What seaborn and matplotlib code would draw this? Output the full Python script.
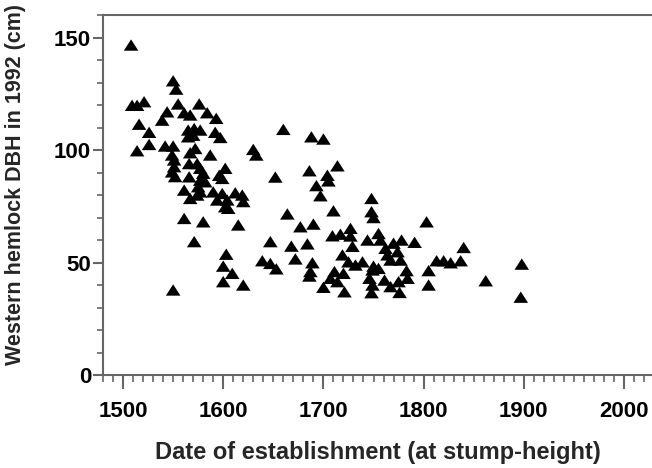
import matplotlib
matplotlib.use("Agg")
import matplotlib.pyplot as plt
import seaborn as sns
import pandas as pd
from matplotlib.path import Path
from matplotlib.ticker import MultipleLocator

# Date of establishment (year) and DBH in 1992 (cm)
year = [
    1508, 1550, 1553, 1509, 1514, 1521, 1555, 1576, 1544, 1539,
    1561, 1567, 1584, 1593, 1516, 1526, 1592, 1597, 1565, 1571,
    1577, 1565, 1570, 1526, 1514, 1542, 1550, 1572, 1567, 1587,
    1630, 1633, 1660,
    1549, 1551, 1551, 1566, 1574, 1577, 1549, 1552, 1580, 1602,
    1596, 1599, 1566, 1577, 1582, 1575, 1561, 1590, 1599, 1612,
    1619, 1574, 1577, 1567, 1594, 1604, 1620, 1605, 1602, 1561,
    1580, 1615, 1571, 1603, 1600, 1609, 1600, 1620, 1550,
    1652, 1664, 1677, 1647, 1668, 1672, 1639, 1647, 1653,
    1688, 1700, 1686, 1714, 1704, 1705, 1693, 1697, 1710, 1690,
    1684, 1709, 1717, 1727, 1727, 1729, 1719, 1725, 1732, 1720,
    1711, 1707, 1714, 1700, 1721, 1689, 1687, 1686,
    1748, 1748, 1750, 1803, 1755, 1744, 1757, 1770, 1778, 1791,
    1762, 1774, 1764, 1767, 1777, 1739, 1750, 1755, 1813, 1820,
    1827, 1837, 1840, 1805, 1783, 1749, 1746, 1761, 1775, 1784,
    1749, 1767, 1748, 1776, 1805,
    1898, 1862, 1897,
]
dbh = [
    146.7, 130.8, 127.1, 119.9, 119.9, 121.5, 120.5, 120.5, 117.0, 113.3,
    116.6, 115.6, 116.6, 114.1, 111.5, 107.9, 107.9, 105.6, 108.9, 109.6,
    108.9, 105.9, 106.6, 102.5, 99.7, 101.8, 101.8, 100.7, 98.8, 97.8,
    100.3, 97.8, 109.2,
    97.8, 95.6, 92.6, 94.0, 94.0, 91.9, 90.3, 88.2, 89.7, 91.9,
    88.8, 87.4, 88.1, 86.6, 85.9, 83.7, 82.2, 81.4, 80.7, 81.0,
    80.0, 80.0, 81.4, 78.5, 77.8, 77.8, 77.1, 74.1, 74.8, 69.6,
    68.1, 66.7, 59.3, 53.7, 48.4, 45.2, 41.5, 40.0, 37.8,
    88.0, 71.6, 65.9, 59.3, 57.3, 51.6, 50.8, 49.6, 47.2,
    105.9, 104.9, 90.8, 93.0, 88.8, 86.3, 84.2, 79.7, 73.0, 67.1,
    58.3, 61.9, 62.6, 65.2, 61.8, 57.2, 53.4, 50.3, 48.9, 45.2,
    46.0, 43.0, 41.5, 39.0, 37.0, 49.9, 46.0, 44.0,
    78.5, 72.6, 70.0, 68.1, 62.9, 60.0, 60.0, 58.6, 60.0, 59.0,
    56.3, 54.8, 53.4, 51.1, 51.1, 50.3, 48.4, 47.4, 50.8, 50.8,
    49.9, 50.8, 56.7, 46.4, 46.4, 46.7, 43.0, 42.2, 41.5, 43.0,
    40.0, 39.3, 36.6, 36.7, 40.0,
    49.3, 41.9, 34.6,
]

df = pd.DataFrame({"year": year, "dbh": dbh})

sns.set_style("ticks")
plt.rcParams["font.family"] = ["Liberation Sans", "DejaVu Sans"]

fig = plt.figure(figsize=(6.52, 4.68), dpi=100)
ax = fig.add_axes([0.158, 0.1987, 0.842, 0.769])

# flat triangle marker, a bit wider than tall
tri = Path([(-1, -0.78), (1, -0.78), (0, 0.78), (-1, -0.78)], closed=True)
sns.scatterplot(data=df, x="year", y="dbh", marker=tri, s=110,
                color="black", edgecolor="none", linewidth=0, ax=ax)

ax.set_xlim(1480, 2028)
ax.set_ylim(0, 160)
ax.xaxis.set_major_locator(MultipleLocator(100))
ax.xaxis.set_minor_locator(MultipleLocator(10))
ax.yaxis.set_major_locator(MultipleLocator(50))
ax.yaxis.set_minor_locator(MultipleLocator(10))

axis_col = "#666666"
for side in ["left", "bottom", "top"]:
    ax.spines[side].set_color(axis_col)
    ax.spines[side].set_linewidth(1.5)
ax.spines["right"].set_visible(False)

ax.tick_params(axis="x", which="major", length=10, width=1.5, pad=9)
ax.tick_params(axis="x", which="minor", length=5, width=1.2)
ax.tick_params(axis="y", which="major", length=7, width=1.5, pad=1.5)
ax.tick_params(axis="y", which="minor", length=4, width=1.2)
ax.tick_params(which="both", color=axis_col, labelsize=16, labelcolor="black")
for lab in ax.get_xticklabels() + ax.get_yticklabels():
    lab.set_fontweight("bold")

ax.set_xlabel("Date of establishment (at stump-height)", fontsize=17,
              fontweight="bold")
ax.set_ylabel("Western hemlock DBH in 1992 (cm)", fontsize=15.5,
              fontweight="bold")
ax.xaxis.set_label_coords(0.5, -0.214)
ax.xaxis.label.set_va("center")
ax.yaxis.set_label_coords(-0.160, 0.528)
ax.yaxis.label.set_va("center")

fig.savefig("out.png", dpi=100)
